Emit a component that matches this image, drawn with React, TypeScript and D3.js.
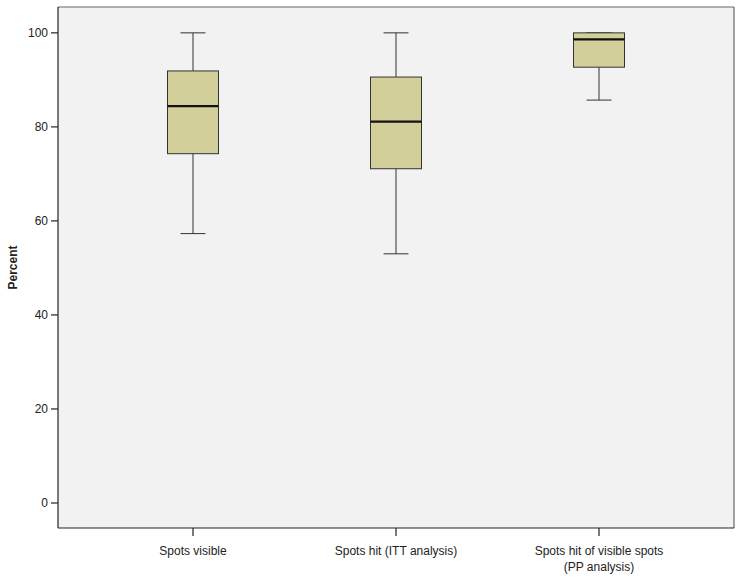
import React from "react";
import * as d3 from "d3";

const categories = ["Spots visible", "Spots hit (ITT analysis)", "Spots hit of visible spots\n(PP analysis)"];
const whiskerLow = [57.3, 53.0, 85.7];
const q1Values = [74.3, 71.1, 92.7];
const medianValues = [84.4, 81.1, 98.6];
const q3Values = [91.9, 90.6, 100];
const whiskerHigh = [100, 100, 100];
const yTicks = [0, 20, 40, 60, 80, 100];

const W = 741, H = 579;
const left = 58, right = 734, top = 7, bottom = 528;

export default function App() {
  const y = d3.scaleLinear().domain([-5.32, 105.5]).range([bottom, top]);
  const x = d3.scalePoint<string>().domain(categories).range([left, right]).padding(0.665);
  const boxW = 51, capW = 25;
  const font = "Liberation Sans, Arial, Helvetica, sans-serif";
  return (
    <svg width={W} height={H} style={{ position: "absolute", left: 0, top: 0 }} fontFamily={font}>
      <rect x={0} y={0} width={W} height={H} fill="#ffffff" />
      <rect x={left} y={top} width={right - left} height={bottom - top} fill="#f2f2f2" />
      <line x1={left} x2={right} y1={top} y2={top} stroke="#666" strokeWidth={1.2} />
      <line x1={right} x2={right} y1={top} y2={bottom} stroke="#666" strokeWidth={1.2} />
      <line x1={left} x2={left} y1={top} y2={bottom} stroke="#222" strokeWidth={1.2} />
      <line x1={left} x2={right} y1={bottom} y2={bottom} stroke="#222" strokeWidth={1.2} />
      {yTicks.map((t) => (
        <g key={t}>
          <line x1={left - 7} x2={left} y1={y(t)} y2={y(t)} stroke="#222" strokeWidth={1.2} />
          <text x={left - 10} y={y(t)} dy="0.35em" textAnchor="end" fontSize={12} fill="#222">{t}</text>
        </g>
      ))}
      {categories.map((c, i) => {
        const cx = x(c)!;
        const lines = c.split("\n");
        return (
          <g key={c}>
            <line x1={cx} x2={cx} y1={bottom} y2={bottom + 8} stroke="#222" strokeWidth={1.2} />
            {lines.map((l, j) => (
              <text key={j} x={cx} y={555 + j * 16} textAnchor="middle" fontSize={12} fill="#222">{l}</text>
            ))}
            <line x1={cx} x2={cx} y1={y(whiskerHigh[i])} y2={y(q3Values[i])} stroke="#333" strokeWidth={1} />
            <line x1={cx} x2={cx} y1={y(q1Values[i])} y2={y(whiskerLow[i])} stroke="#333" strokeWidth={1} />
            <line x1={cx - capW / 2} x2={cx + capW / 2} y1={y(whiskerHigh[i])} y2={y(whiskerHigh[i])} stroke="#333" strokeWidth={1} />
            <line x1={cx - capW / 2} x2={cx + capW / 2} y1={y(whiskerLow[i])} y2={y(whiskerLow[i])} stroke="#333" strokeWidth={1} />
            <rect x={cx - boxW / 2} y={y(q3Values[i])} width={boxW} height={y(q1Values[i]) - y(q3Values[i])} fill="#d3cf9b" stroke="#333" strokeWidth={1} />
            <line x1={cx - boxW / 2} x2={cx + boxW / 2} y1={y(medianValues[i])} y2={y(medianValues[i])} stroke="#111" strokeWidth={2.2} />
          </g>
        );
      })}
      <text transform={`translate(17,${(top + bottom) / 2}) rotate(-90)`} textAnchor="middle" fontSize={12} fontWeight="bold" fill="#222">Percent</text>
    </svg>
  );
}
